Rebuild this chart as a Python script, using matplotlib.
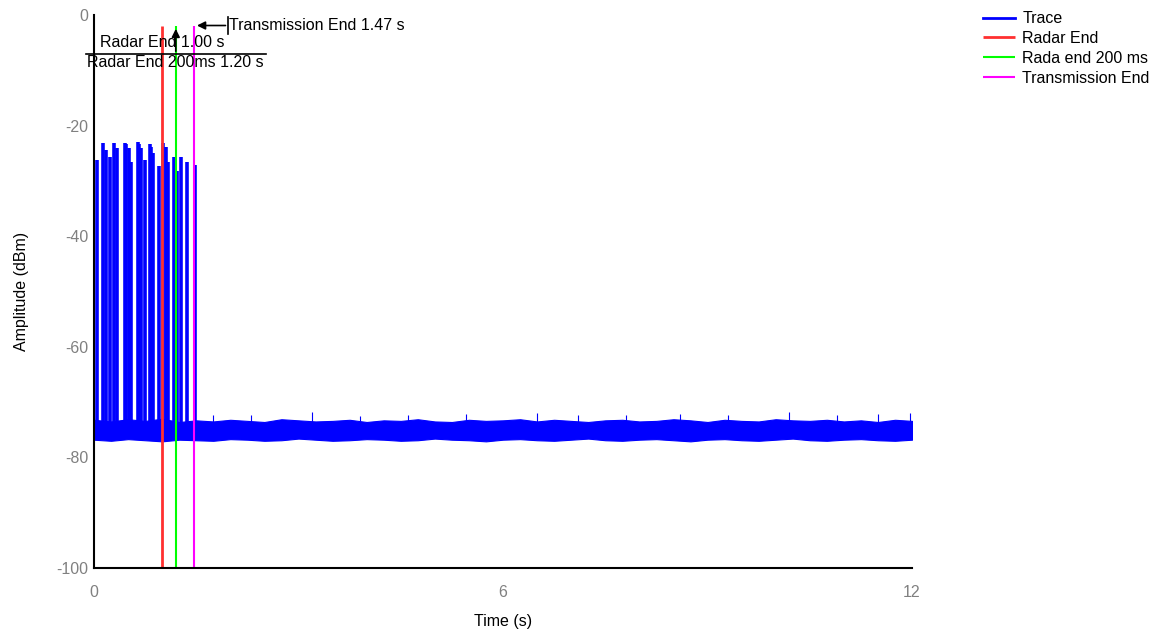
import numpy as np
import matplotlib.pyplot as plt

plt.rcParams['font.family'] = ['Liberation Sans', 'DejaVu Sans']
plt.rcParams['axes.unicode_minus'] = False

# =========================================================
# DATOS
# =========================================================
# pulsos del radar: tiempo (s) y pico (dBm)
pulse_t = [0.04, 0.13, 0.17, 0.24, 0.30, 0.34, 0.45, 0.47, 0.51, 0.54,
           0.64, 0.66, 0.69, 0.75, 0.82, 0.84, 0.87, 0.95, 1.01, 1.05,
           1.08, 1.17, 1.22, 1.27, 1.37, 1.48]
pulse_peak = [-26.2, -23.2, -24.4, -25.6, -23.2, -24.1, -23.2, -23.4, -24.1, -26.5,
              -22.9, -23.3, -24.1, -26.2, -23.3, -23.8, -25.0, -27.3, -23.2, -23.9,
              -26.5, -25.6, -28.2, -25.6, -26.5, -27.1]

# piso de ruido: envolvente cada 0.25 s
env_t = np.arange(0, 12.25, 0.25)
env_hi = [-73.2, -73.5, -73.1, -73.4, -73.0, -73.6, -73.3, -73.5, -73.2, -73.4,
          -73.6, -73.1, -73.3, -73.5, -73.4, -73.2, -73.6, -73.3, -73.4, -73.1,
          -73.5, -73.6, -73.2, -73.4, -73.3, -73.1, -73.5, -73.2, -73.4, -73.6,
          -73.3, -73.2, -73.5, -73.4, -73.1, -73.3, -73.6, -73.2, -73.4, -73.5,
          -73.1, -73.3, -73.4, -73.2, -73.5, -73.3, -73.6, -73.2, -73.4]
env_lo = [-76.8, -77.0, -76.7, -76.9, -77.1, -76.8, -76.9, -77.0, -76.7, -76.8,
          -77.0, -76.9, -76.6, -76.8, -77.0, -76.9, -76.7, -76.8, -77.0, -76.9,
          -76.6, -76.8, -76.9, -77.1, -76.8, -76.7, -76.9, -77.0, -76.8, -76.6,
          -76.9, -77.0, -76.8, -76.7, -76.9, -77.1, -76.8, -76.7, -76.9, -77.0,
          -76.8, -76.6, -76.9, -77.0, -76.8, -76.7, -76.9, -77.0, -76.8]

# picos sueltos del ruido
spike_t = [0.55, 1.35, 1.75, 2.3, 3.2, 3.9, 4.6, 5.45, 6.5, 7.1, 7.8, 8.6, 9.3, 10.2, 10.9, 11.5, 11.97]
spike_peak = [-72.0, -72.2, -72.4, -72.3, -71.8, -72.5, -72.3, -72.2, -72.0, -72.4,
              -72.3, -72.1, -72.4, -71.8, -72.3, -72.2, -72.0]

# marcadores
radar_end = 1.00
radar_end_200 = 1.20
tx_end = 1.47

x_ticks = [0, 6, 12]
y_ticks = [0, -20, -40, -60, -80, -100]

# =========================================================
# FIGURA
# =========================================================
fig = plt.figure(figsize=(11.66, 6.41), dpi=100)
ax = fig.add_axes([0.0806, 0.1139, 0.7016, 0.8627])

blue = '#0000FF'
ax.fill_between(env_t, env_lo, env_hi, color=blue, lw=0.8, edgecolor=blue)
ax.vlines(pulse_t, -76.5, pulse_peak, color=blue, lw=2.6)
ax.vlines(spike_t, -74, spike_peak, color=blue, lw=0.8)
ax.plot([], [], color=blue, lw=2, label='Trace')

ax.vlines(radar_end, -100, -2, color='#FF3030', lw=2, label='Radar End')
ax.vlines(radar_end_200, -100, -2, color='#00FF00', lw=1.5, label='Rada end 200 ms')
ax.vlines(tx_end, -100, -2, color='#FF00FF', lw=1.5, label='Transmission End')

# anotaciones
fs = 11.5
ax.text(radar_end, -4.9, f'Radar End {radar_end:.2f} s', ha='center', va='center', fontsize=fs)
ax.text(radar_end_200, -8.6, f'Radar End 200ms {radar_end_200:.2f} s', ha='center', va='center',
        fontsize=fs)
ax.plot([-0.12, 2.52], [-7.05, -7.05], color='black', lw=1.2, clip_on=False)
ax.annotate('', xy=(radar_end_200, -2.0), xytext=(radar_end_200, -7.05),
            arrowprops=dict(arrowstyle='-|>', color='black', lw=1.2, mutation_scale=12))
ax.annotate('', xy=(tx_end, -1.9), xytext=(1.97, -1.9),
            arrowprops=dict(arrowstyle='-|>', color='black', lw=1.2, mutation_scale=12))
ax.plot([1.97, 1.97], [-0.4, -3.4], color='black', lw=1.2)
ax.text(1.985, -1.9, f'Transmission End {tx_end:.2f} s', ha='left', va='center', fontsize=fs)

ax.set_xlim(0, 12)
ax.set_ylim(-100, 0)
ax.set_xticks(x_ticks)
ax.set_yticks(y_ticks)
ax.tick_params(length=0, labelsize=fs, labelcolor='#808080')
ax.tick_params(axis='x', pad=12)
ax.tick_params(axis='y', pad=4)
for s in ['top', 'right']:
    ax.spines[s].set_visible(False)
for s in ['left', 'bottom']:
    ax.spines[s].set_linewidth(1.5)

ax.set_xlabel('Time (s)', fontsize=fs, labelpad=10)
ax.set_ylabel('Amplitude (dBm)', fontsize=fs, labelpad=20)

fig.legend(loc='upper left', bbox_to_anchor=(0.831, 1.005), frameon=False, fontsize=fs,
           handlelength=2.0, handletextpad=0.45, labelspacing=0.3)

fig.savefig('out.png', dpi=100)
